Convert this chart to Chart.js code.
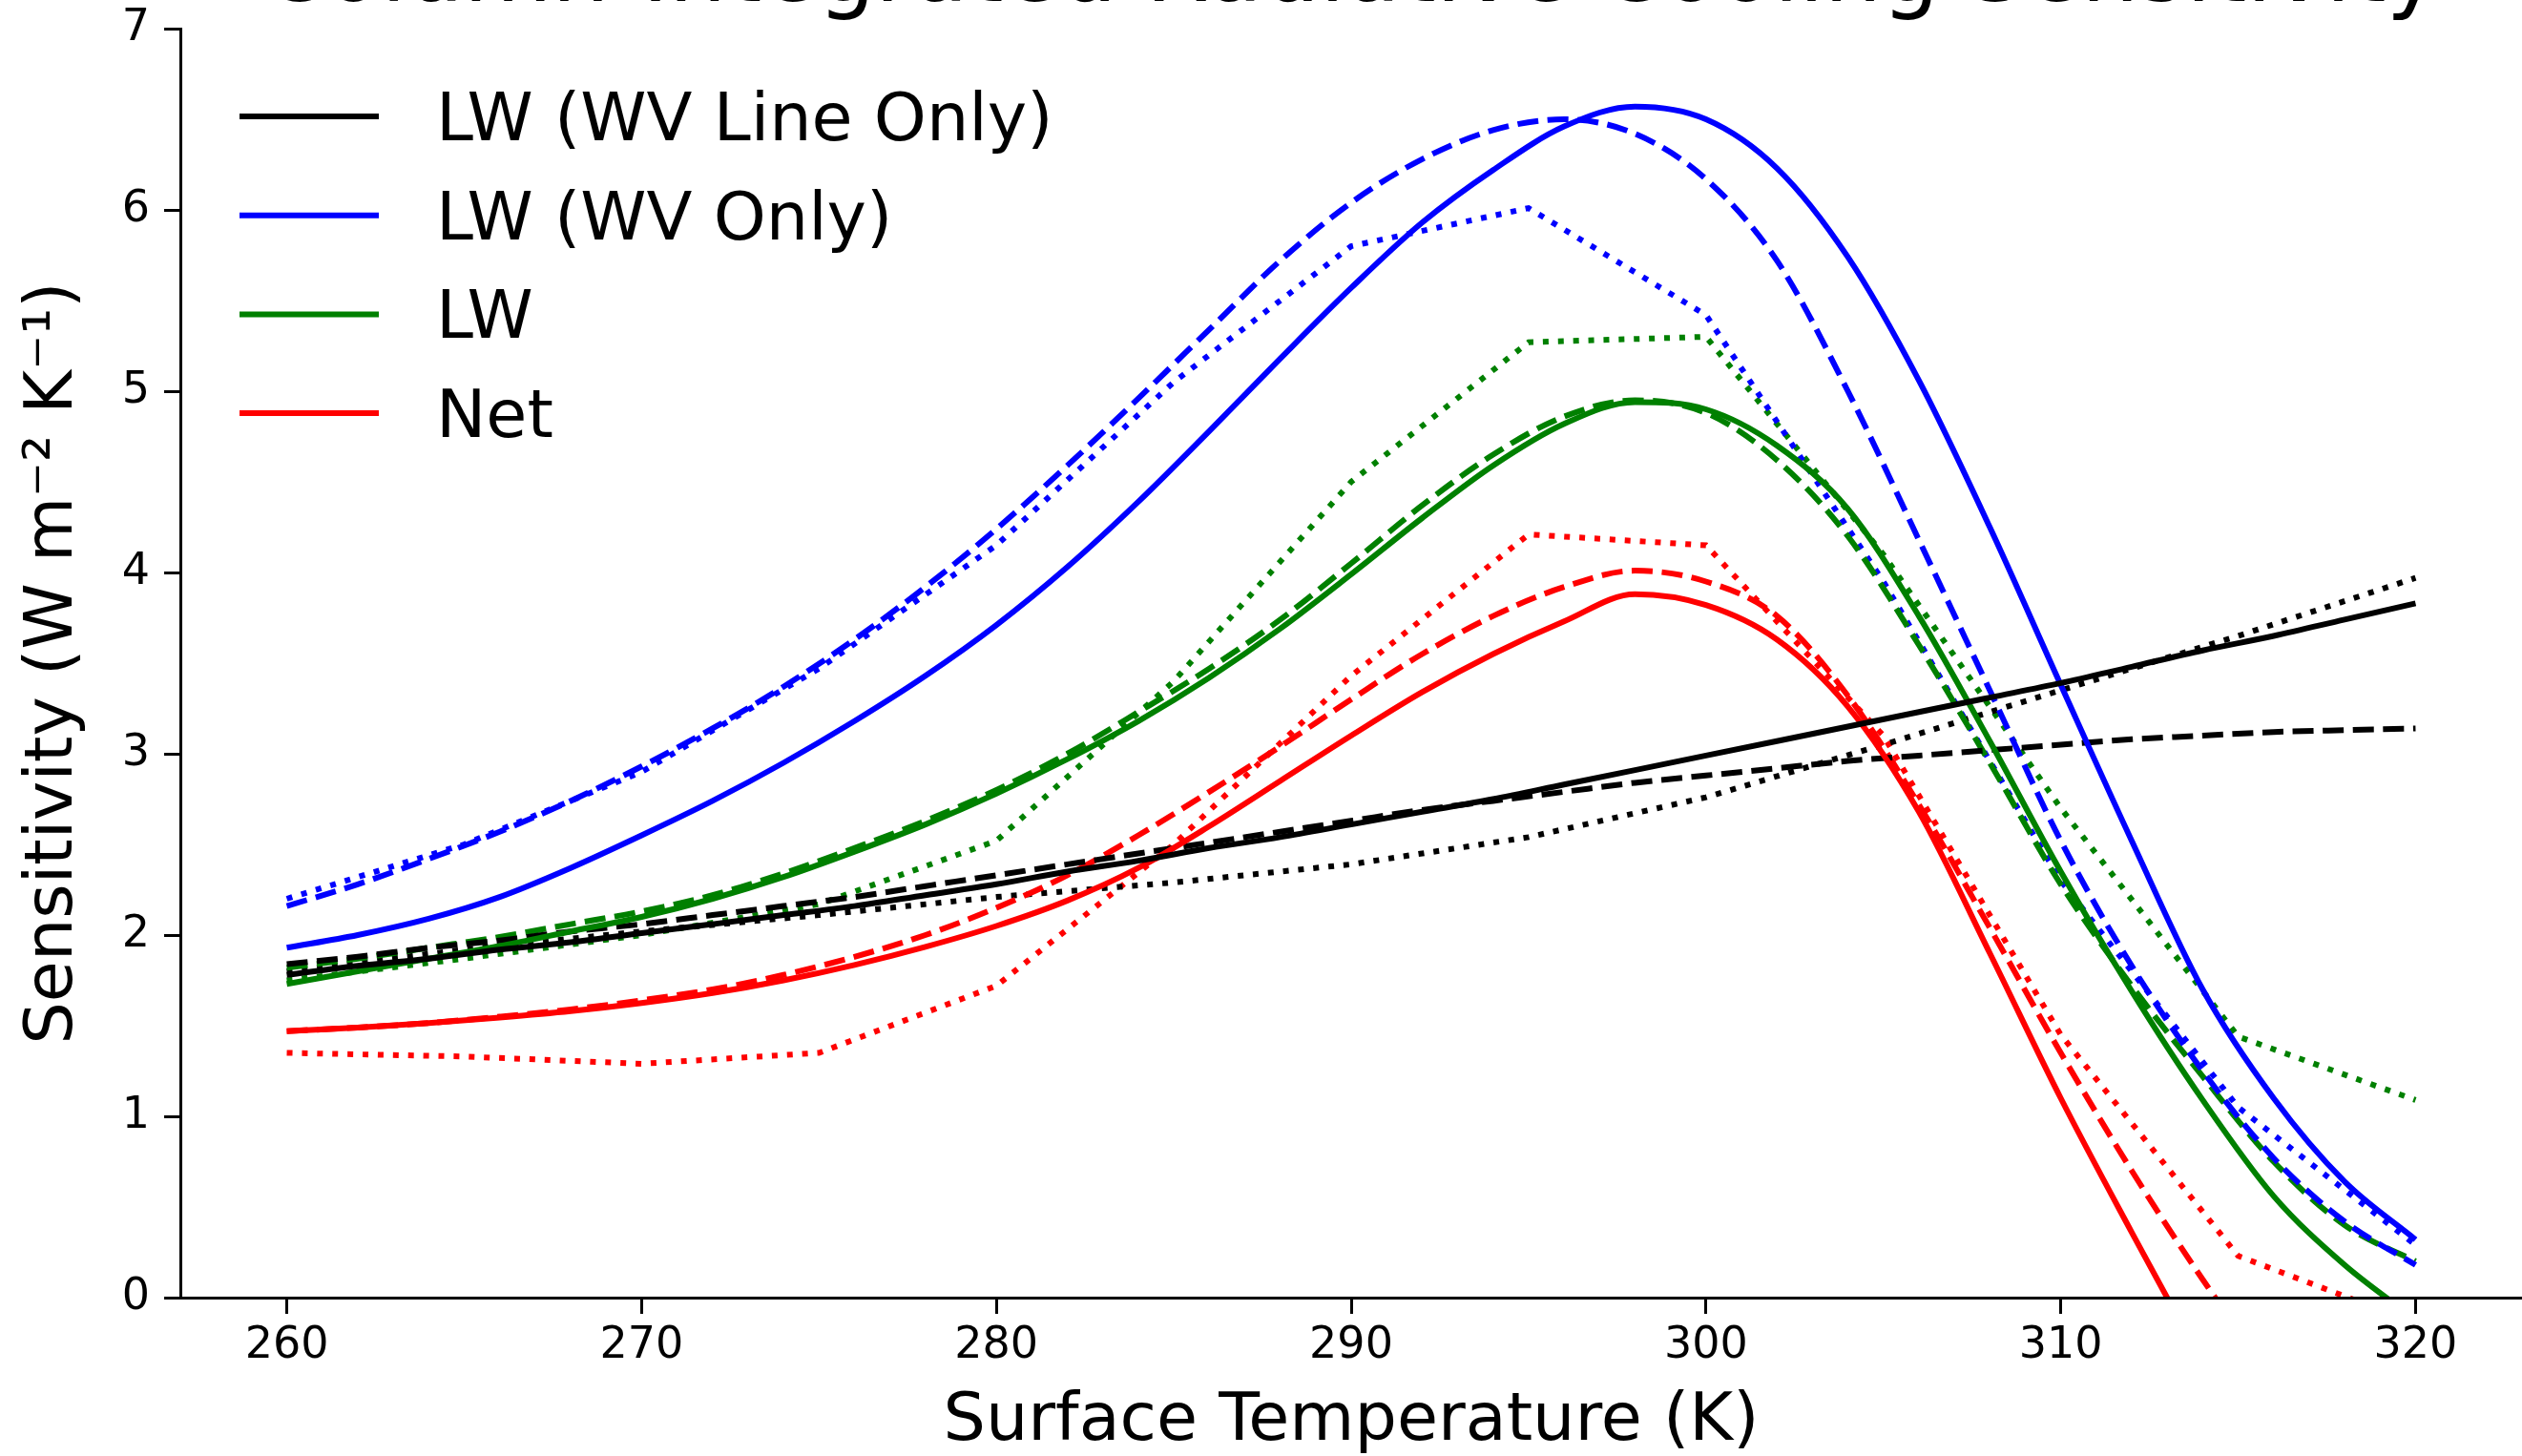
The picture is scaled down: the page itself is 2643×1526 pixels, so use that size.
<!DOCTYPE html>
<html lang="en">
  <head>
    <meta charset="utf-8" />
    <title>Column-Integrated Radiative Cooling Sensitivity</title>
    <script src="https://cdn.jsdelivr.net/npm/chart.js"></script>
    <style>
      html, body { margin: 0; padding: 0; background: #fff; }
    </style>
  </head>
  <body>
    <canvas id="myChart" width="2643" height="1526"></canvas>
    <script>
      // surface temperature grids (K)
      const tempFine = [260, 262, 264, 266, 268, 270, 272, 274, 276, 278, 280, 282, 284, 286, 288, 290,
                        292, 294, 296, 298, 300, 302, 304, 306, 308, 310, 312, 314, 316, 318, 320];
      const tempCoarse = [260, 265, 270, 275, 280, 285, 290, 295, 300, 305, 310, 315, 320];

      const xTicks = [260, 270, 280, 290, 300, 310, 320];
      const yTicks = [0, 1, 2, 3, 4, 5, 6, 7];

      // LW (WV Line Only) - black
      const lineOnlySolid = [1.78, 1.83, 1.87, 1.92, 1.96, 2.01, 2.06, 2.11, 2.16, 2.22, 2.28, 2.35, 2.41, 2.48, 2.54, 2.61,
                             2.68, 2.75, 2.83, 2.91, 2.99, 3.07, 3.15, 3.23, 3.31, 3.39, 3.48, 3.57, 3.65, 3.74, 3.83];
      const lineOnlyDashed = [1.84, 1.88, 1.93, 1.97, 2.02, 2.06, 2.11, 2.16, 2.21, 2.27, 2.33, 2.39, 2.45, 2.51, 2.57, 2.63,
                              2.69, 2.74, 2.79, 2.84, 2.88, 2.92, 2.96, 2.99, 3.02, 3.05, 3.08, 3.1, 3.12, 3.13, 3.14];
      const lineOnlyDotted = [1.8, 1.92, 2.02, 2.11, 2.21, 2.29, 2.39, 2.54, 2.76, 3.05, 3.35, 3.65, 3.97];

      // LW (WV Only) - blue
      const wvSolid = [1.93, 2.0, 2.09, 2.21, 2.37, 2.55, 2.74, 2.95, 3.18, 3.43, 3.71, 4.03, 4.39, 4.78, 5.18, 5.57,
                       5.93, 6.22, 6.46, 6.57, 6.5, 6.23, 5.74, 5.06, 4.25, 3.38, 2.52, 1.7, 1.1, 0.64, 0.32];
      const wvDashed = [2.16, 2.28, 2.42, 2.57, 2.74, 2.93, 3.14, 3.37, 3.63, 3.92, 4.24, 4.59, 4.96, 5.34, 5.72, 6.04,
                        6.28, 6.44, 6.5, 6.42, 6.17, 5.72, 5.0, 4.18, 3.35, 2.52, 1.83, 1.25, 0.77, 0.42, 0.18];
      const wvDotted = [2.2, 2.5, 2.9, 3.47, 4.15, 5.05, 5.8, 6.01, 5.42, 3.95, 2.3, 1.05, 0.29];

      // LW - green
      const lwSolid = [1.73, 1.8, 1.87, 1.94, 2.02, 2.1, 2.2, 2.32, 2.46, 2.61, 2.78, 2.97, 3.18, 3.42, 3.69, 3.99,
                       4.3, 4.59, 4.82, 4.94, 4.9, 4.7, 4.35, 3.76, 3.07, 2.35, 1.69, 1.09, 0.56, 0.18, -0.12];
      const lwDashed = [1.82, 1.87, 1.93, 1.99, 2.06, 2.13, 2.22, 2.34, 2.48, 2.63, 2.8, 3.0, 3.23, 3.47, 3.74, 4.05,
                        4.37, 4.65, 4.86, 4.95, 4.88, 4.62, 4.2, 3.6, 2.95, 2.28, 1.72, 1.22, 0.75, 0.4, 0.2];
      const lwDotted = [1.75, 1.87, 2.0, 2.17, 2.52, 3.4, 4.5, 5.27, 5.3, 4.1, 2.7, 1.44, 1.09];

      // Net - red
      const netSolid = [1.47, 1.49, 1.515, 1.545, 1.58, 1.625, 1.68, 1.75, 1.835, 1.935, 2.05, 2.19, 2.37, 2.6, 2.85, 3.1,
                        3.34, 3.55, 3.73, 3.88, 3.82, 3.63, 3.26, 2.68, 1.9, 1.1, 0.36, -0.36, null, null, null];
      const netDashed = [1.47, 1.49, 1.515, 1.55, 1.59, 1.64, 1.7, 1.78, 1.88, 2.0, 2.15, 2.33, 2.55, 2.79, 3.04, 3.3,
                         3.55, 3.76, 3.92, 4.01, 3.95, 3.76, 3.32, 2.72, 2.04, 1.35, 0.7, 0.1, -0.45, null, null];
      const netDotted = [1.35, 1.33, 1.29, 1.35, 1.72, 2.5, 3.43, 4.21, 4.15, 3.1, 1.45, 0.23, -0.14];

      const titleText = "Column-Integrated Radiative Cooling Sensitivity";
      const lw = 6;
      const dashed = [22, 9.6];
      const dotted = [6, 9.9];

      function series(label, color, temps, values, dash, inLegend) {
        return {
          label: label,
          data: temps.map((t, i) => ({ x: t, y: values[i] })),
          borderColor: color,
          backgroundColor: color,
          borderWidth: lw,
          borderDash: dash,
          pointRadius: 0,
          fill: false,
          clip: 0,
          cubicInterpolationMode: temps === tempFine ? "monotone" : "default",
          tension: 0,
          inLegend: inLegend,
        };
      }

      const datasets = [
        series("LW (WV Line Only)", "#000000", tempFine, lineOnlySolid, [], true),
        series("LW (WV Only)", "#0000ff", tempFine, wvSolid, [], true),
        series("LW", "#008000", tempFine, lwSolid, [], true),
        series("Net", "#ff0000", tempFine, netSolid, [], true),
        series("LW (WV Line Only) dashed", "#000000", tempFine, lineOnlyDashed, dashed, false),
        series("LW (WV Only) dashed", "#0000ff", tempFine, wvDashed, dashed, false),
        series("LW dashed", "#008000", tempFine, lwDashed, dashed, false),
        series("Net dashed", "#ff0000", tempFine, netDashed, dashed, false),
        series("LW (WV Line Only) dotted", "#000000", tempCoarse, lineOnlyDotted, dotted, false),
        series("LW (WV Only) dotted", "#0000ff", tempCoarse, wvDotted, dotted, false),
        series("LW dotted", "#008000", tempCoarse, lwDotted, dotted, false),
        series("Net dotted", "#ff0000", tempCoarse, netDotted, dotted, false),
      ];

      // title sits mostly above the canvas, like the cropped original
      const cutTitle = {
        id: "cutTitle",
        afterDraw(chart) {
          const { ctx, chartArea } = chart;
          ctx.save();
          ctx.font = '95px "DejaVu Sans"';
          ctx.fillStyle = "#000";
          ctx.textAlign = "center";
          ctx.textBaseline = "alphabetic";
          ctx.fillText(titleText, (chartArea.left + chartArea.right) / 2, 1);
          ctx.restore();
        },
      };

      // frameless legend with line samples, top left inside the axes
      const lineLegend = {
        id: "lineLegend",
        afterDraw(chart) {
          const { ctx, chartArea } = chart;
          const items = chart.data.datasets.filter((d) => d.inLegend);
          ctx.save();
          ctx.font = '70px "DejaVu Sans"';
          ctx.textBaseline = "alphabetic";
          ctx.textAlign = "left";
          items.forEach((d, i) => {
            const y = chartArea.top + 92 + i * 103.7;
            ctx.strokeStyle = d.borderColor;
            ctx.lineWidth = lw;
            ctx.setLineDash([]);
            ctx.beginPath();
            ctx.moveTo(chartArea.left + 62, y);
            ctx.lineTo(chartArea.left + 208, y);
            ctx.stroke();
            ctx.fillStyle = "#000";
            ctx.fillText(d.label, chartArea.left + 268, y + 25);
          });
          ctx.restore();
        },
      };

      Chart.defaults.font.family = '"DejaVu Sans"';
      Chart.defaults.color = "#000";

      const ctx = document.getElementById("myChart");
      const myChart = new Chart(ctx, {
        type: "line",
        data: { datasets: datasets },
        plugins: [cutTitle, lineLegend],
        options: {
          responsive: false,
          animation: false,
          devicePixelRatio: 1,
          layout: { padding: { top: 30, left: 0, right: 0, bottom: 0 } },
          plugins: {
            legend: { display: false },
            title: { display: false },
            tooltip: { enabled: false },
          },
          scales: {
            x: {
              type: "linear",
              min: 257,
              max: 323,
              afterBuildTicks: (scale) => {
                scale.ticks = xTicks.map((v) => ({ value: v }));
              },
              afterFit: (scale) => {
                scale.height = 166;
                scale.paddingLeft = 0;
                scale.paddingRight = 0;
              },
              grid: {
                display: true,
                drawOnChartArea: false,
                drawTicks: true,
                tickLength: 17,
                tickWidth: 3,
                tickColor: "#000",
                color: "#000",
              },
              border: { display: true, color: "#000", width: 3, z: 1 },
              ticks: {
                color: "#000",
                font: { size: 46 },
                padding: 6,
                maxRotation: 0,
                autoSkip: false,
              },
              title: {
                display: true,
                text: "Surface Temperature (K)",
                color: "#000",
                font: { size: 70, lineHeight: 1 },
                padding: 0,
              },
            },
            y: {
              type: "linear",
              min: 0,
              max: 7,
              afterBuildTicks: (scale) => {
                scale.ticks = yTicks.map((v) => ({ value: v }));
              },
              afterFit: (scale) => {
                scale.width = 189;
                scale.paddingTop = 0;
                scale.paddingBottom = 0;
              },
              grid: {
                display: true,
                drawOnChartArea: false,
                drawTicks: true,
                tickLength: 17,
                tickWidth: 3,
                tickColor: "#000",
                color: "#000",
              },
              border: { display: true, color: "#000", width: 3, z: 1 },
              ticks: {
                color: "#000",
                font: { size: 46 },
                padding: 15,
                autoSkip: false,
              },
              title: {
                display: true,
                text: "Sensitivity (W m\u207b\u00b2 K\u207b\u00b9)",
                color: "#000",
                font: { size: 70, lineHeight: 1 },
                padding: { top: 22, bottom: 0 },
              },
            },
          },
        },
      });
    </script>
  </body>
</html>
